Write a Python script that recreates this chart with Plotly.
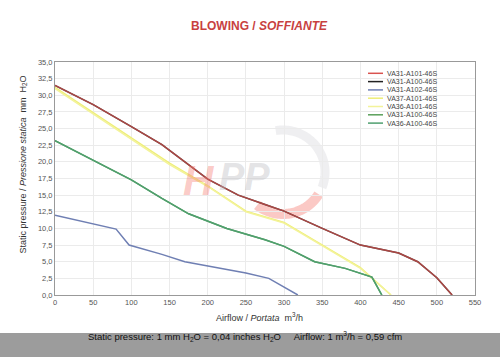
import numpy as np
import plotly.graph_objects as go

names = ["VA31-A101-46S", "VA31-A100-46S", "VA31-A102-46S", "VA37-A101-46S",
         "VA36-A101-46S", "VA31-A100-46S", "VA36-A100-46S"]
colors = ["#d9534f", "#222222", "#6f7fb3", "#eeee77", "#f3f39a", "#5aa05a", "#4f9f6f"]

red_x = [0, 50, 100, 140, 200, 240, 275, 300, 350, 400, 450, 475, 500, 520]
red_y = [31.5, 28.6, 25.3, 22.6, 17.4, 15.0, 13.6, 12.6, 10.0, 7.5, 6.3, 5.0, 2.6, 0.0]
black_x = red_x
black_y = red_y
blue_x = [0, 80, 97, 140, 170, 200, 250, 280, 318]
blue_y = [12.0, 9.9, 7.5, 6.1, 5.0, 4.4, 3.3, 2.5, 0.0]
yel1_x = [0, 50, 100, 150, 200, 250, 300, 350, 400, 440]
yel1_y = [31.2, 27.4, 23.6, 19.8, 16.4, 12.6, 10.9, 7.5, 4.1, 0.0]
yel2_x = [0, 50, 100, 150, 200, 250, 300, 350, 400, 440]
yel2_y = [31.0, 27.2, 23.4, 19.6, 16.3, 12.5, 10.8, 7.4, 4.0, 0.0]
grn1_x = [0, 50, 100, 140, 175, 225, 275, 300, 340, 380, 415, 428]
grn1_y = [23.2, 20.3, 17.3, 14.5, 12.2, 10.0, 8.3, 7.3, 5.0, 4.0, 2.7, 0.0]
grn2_x = grn1_x
grn2_y = grn1_y

x_ticks = list(range(0, 551, 50))
y_ticks = [i * 2.5 for i in range(15)]

series = [(red_x, red_y), (black_x, black_y), (blue_x, blue_y), (yel1_x, yel1_y),
          (yel2_x, yel2_y), (grn1_x, grn1_y), (grn2_x, grn2_y)]
order = [1, 0, 2, 3, 4, 5, 6]

W, H = 500, 357
L, R, T, B = 55, 25, 62, 62
PW, PH = W - L - R, H - T - B


def px(xp):
    return (xp - L) / PW


def py(yp):
    return (H - B - yp) / PH


fig = go.Figure()

# faint watermark logo (behind data)
th_g = np.radians(np.linspace(100, -22, 60))
th_r = np.radians(np.linspace(-32, -128, 50))
cx, cy, rr = 283, 172, 42
path_g = "M " + " L ".join(f"{px(cx + rr*np.cos(t)):.4f},{py(cy - rr*np.sin(t)):.4f}" for t in th_g)
path_r = "M " + " L ".join(f"{px(cx + rr*np.cos(t)):.4f},{py(cy - rr*np.sin(t)):.4f}" for t in th_r)
fig.add_shape(type="path", path=path_g, xref="paper", yref="paper",
              line=dict(color="rgba(215,215,220,0.4)", width=9), layer="below")
fig.add_shape(type="path", path=path_r, xref="paper", yref="paper",
              line=dict(color="rgba(245,120,110,0.4)", width=10), layer="below")
fig.add_annotation(text="<b><i>H</i></b>", xref="paper", yref="paper", x=px(199), y=py(180),
                   showarrow=False, font=dict(size=42, color="rgba(245,120,110,0.4)"))
fig.add_annotation(text="<b><i>PP</i></b>", xref="paper", yref="paper", x=px(244), y=py(177),
                   showarrow=False, font=dict(size=38, color="rgba(185,185,190,0.4)"))

for i in order:
    xs, ys = series[i]
    fig.add_trace(go.Scatter(x=xs, y=ys, mode="lines", name=names[i],
                             line=dict(color=colors[i], width=1.5),
                             opacity=0.75 if i == 0 else 1.0, showlegend=False))

# custom compact legend
leg_y = [73.3, 81.6, 89.9, 98.2, 106.5, 114.8, 123.1]
for i in range(7):
    fig.add_shape(type="line", xref="paper", yref="paper",
                  x0=px(368), x1=px(383), y0=py(leg_y[i]), y1=py(leg_y[i]),
                  line=dict(color=colors[i], width=1.5))
    fig.add_annotation(text=names[i], xref="paper", yref="paper", x=px(384.5), y=py(leg_y[i]),
                       xanchor="left", yanchor="middle", showarrow=False,
                       font=dict(size=7, color="#444"))

fig.update_layout(
    width=W, height=H,
    margin=dict(l=L, r=R, t=T, b=B),
    paper_bgcolor="white", plot_bgcolor="rgba(0,0,0,0)",
    font=dict(family="Liberation Sans, Arial, sans-serif", color="#333"),
    separators=", ",
    showlegend=False,
    xaxis=dict(range=[0, 550], tickvals=x_ticks, ticktext=[str(v) for v in x_ticks],
               showgrid=True, gridcolor="#ebebeb", gridwidth=1, automargin=False,
               showline=True, linecolor="#999", mirror=True, linewidth=1,
               zeroline=False, ticks="", tickfont=dict(size=7.5, color="#555")),
    yaxis=dict(range=[0, 35], tickvals=y_ticks, tickformat=".1f",
               showgrid=True, gridcolor="#ebebeb", gridwidth=1, automargin=False,
               showline=True, linecolor="#999", mirror=True, linewidth=1,
               zeroline=False, ticks="", tickfont=dict(size=7.5, color="#555")),
)

fig.add_annotation(text="Airflow / <i>Portata</i>  m<sup>3</sup>/h", xref="paper", yref="paper",
                   x=px(259.5), y=py(325), showarrow=False, font=dict(size=9, color="#333"))
fig.add_annotation(text="Static pressure / <i>Pressione statica</i>  mm  H<sub>2</sub>O",
                   xref="paper", yref="paper", x=px(15), y=py(165), textangle=-90,
                   showarrow=False, font=dict(size=9, color="#333"))

fig.add_annotation(text="<b>BLOWING / <i>SOFFIANTE</i></b>", xref="paper", yref="paper",
                   x=px(259), y=py(17), showarrow=False,
                   font=dict(size=12, color="#c8413f"))

fig.add_shape(type="rect", xref="paper", yref="paper", x0=px(-10), x1=px(510),
              y0=py(333), y1=py(360), fillcolor="#9c9c9c", line=dict(width=0), layer="below")
fig.add_annotation(text="Static pressure: 1 mm H<sub>2</sub>O = 0,04 inches H<sub>2</sub>O     Airflow: 1 m<sup>3</sup>/h = 0,59 cfm",
                   xref="paper", yref="paper", x=px(244.5), y=py(345), showarrow=False,
                   font=dict(size=9.5, color="#111"))

fig.write_html("out.html", config={"displayModeBar": False},
               post_script="document.body.style.margin='0';document.body.style.overflow='hidden';")
